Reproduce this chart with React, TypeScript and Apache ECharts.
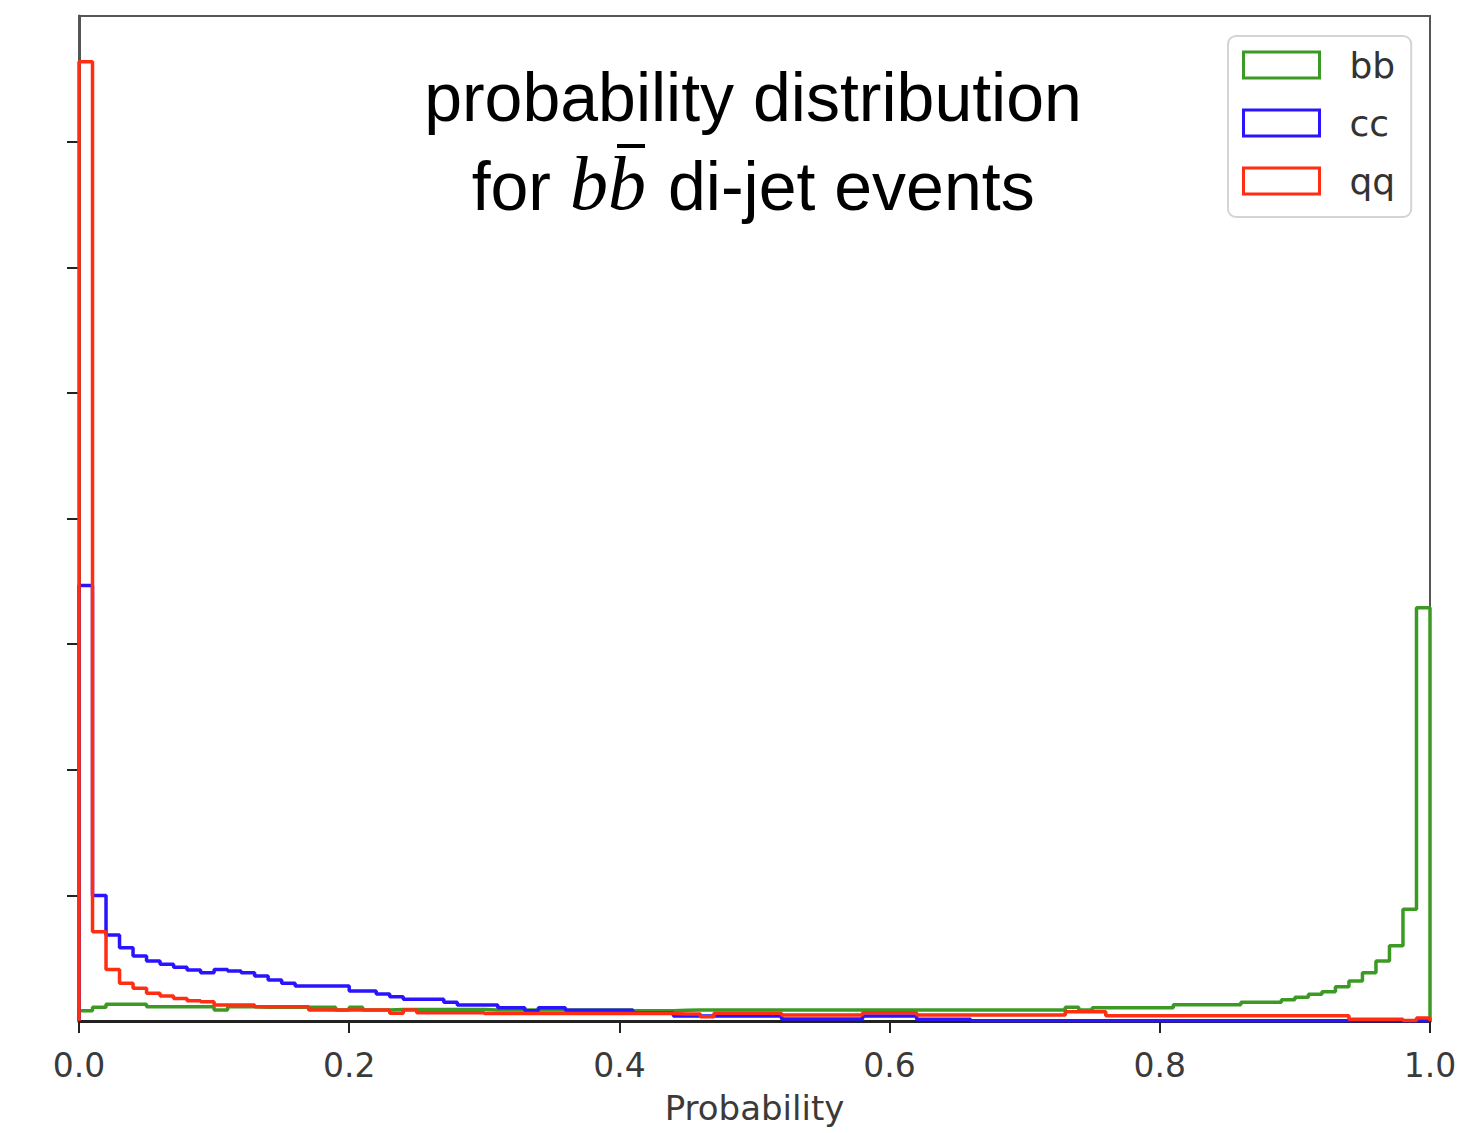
import React, { useEffect, useRef } from "react";
import * as echarts from "echarts";

// Histogram: 100 bins of width 0.01 on [0, 1]
const binCount = 100;
const binWidth = 0.01;

const seriesNames = ["bb", "cc", "qq"];
const seriesColors = ["#3c9a24", "#2a14ff", "#ff2d12"];

const yTickValues = [1, 2, 3, 4, 5, 6, 7];

const bbValues = [
  0.082, 0.109, 0.133, 0.133, 0.133, 0.114, 0.114, 0.114, 0.114, 0.114,
  0.088, 0.114, 0.114, 0.109, 0.109, 0.109, 0.109, 0.109, 0.109, 0.088,
  0.109, 0.088, 0.088, 0.092, 0.092, 0.092, 0.092, 0.092, 0.092, 0.092,
  0.088, 0.088, 0.088, 0.088, 0.088, 0.088, 0.088, 0.088, 0.088, 0.088,
  0.088, 0.082, 0.082, 0.082, 0.085, 0.088, 0.088, 0.088, 0.088, 0.088,
  0.088, 0.088, 0.088, 0.088, 0.088, 0.088, 0.088, 0.088, 0.088, 0.088,
  0.088, 0.088, 0.088, 0.088, 0.088, 0.088, 0.088, 0.088, 0.088, 0.088,
  0.088, 0.088, 0.088, 0.109, 0.088, 0.106, 0.106, 0.106, 0.106, 0.106,
  0.106, 0.13, 0.13, 0.13, 0.13, 0.13, 0.15, 0.15, 0.15, 0.17,
  0.19, 0.212, 0.233, 0.273, 0.318, 0.385, 0.478, 0.6, 0.889, 3.29,
];

const ccValues = [
  3.466, 1.0, 0.685, 0.584, 0.517, 0.478, 0.451, 0.427, 0.406, 0.385,
  0.41, 0.398, 0.385, 0.358, 0.326, 0.3, 0.279, 0.279, 0.279, 0.279,
  0.239, 0.239, 0.215, 0.194, 0.173, 0.173, 0.173, 0.149, 0.127, 0.127,
  0.127, 0.106, 0.106, 0.082, 0.106, 0.106, 0.085, 0.085, 0.085, 0.085,
  0.085, 0.063, 0.063, 0.063, 0.04, 0.04, 0.04, 0.04, 0.04, 0.04,
  0.04, 0.04, 0.015, 0.015, 0.015, 0.015, 0.015, 0.015, 0.04, 0.04,
  0.04, 0.04, 0.014, 0.014, 0.014, 0.014, 0.002, 0.002, 0.002, 0.002,
  0.002, 0.002, 0.002, 0.002, 0.002, 0.002, 0.002, 0.002, 0.002, 0.002,
  0.002, 0.002, 0.002, 0.002, 0.002, 0.002, 0.002, 0.002, 0.002, 0.002,
  0.002, 0.002, 0.002, 0.002, 0.002, 0.002, 0.002, 0.002, 0.002, 0.002,
];

const qqValues = [
  7.635, 0.711, 0.41, 0.3, 0.26, 0.22, 0.199, 0.18, 0.162, 0.154,
  0.127, 0.127, 0.127, 0.114, 0.114, 0.114, 0.114, 0.088, 0.088, 0.088,
  0.088, 0.088, 0.088, 0.061, 0.088, 0.066, 0.066, 0.066, 0.066, 0.066,
  0.06, 0.06, 0.06, 0.06, 0.06, 0.06, 0.06, 0.06, 0.06, 0.06,
  0.06, 0.06, 0.06, 0.06, 0.056, 0.056, 0.034, 0.061, 0.061, 0.061,
  0.061, 0.061, 0.048, 0.048, 0.048, 0.048, 0.048, 0.048, 0.066, 0.066,
  0.066, 0.066, 0.048, 0.048, 0.048, 0.048, 0.048, 0.048, 0.048, 0.048,
  0.048, 0.048, 0.048, 0.074, 0.074, 0.074, 0.042, 0.042, 0.042, 0.042,
  0.042, 0.042, 0.042, 0.042, 0.042, 0.042, 0.042, 0.042, 0.042, 0.042,
  0.042, 0.042, 0.042, 0.042, 0.014, 0.014, 0.014, 0.014, 0.003, 0.024,
];

const allValues = [bbValues, ccValues, qqValues];

function stepData(values: number[]): number[][] {
  const pts: number[][] = [[0, 0]];
  for (let i = 0; i < binCount; i++) {
    pts.push([+(i * binWidth).toFixed(2), values[i]]);
  }
  pts.push([1, values[binCount - 1]]);
  pts.push([1, 0]);
  return pts;
}

export default function App() {
  const ref = useRef<HTMLDivElement>(null);

  useEffect(() => {
    if (!ref.current) return;
    const chart = echarts.init(ref.current, undefined, { renderer: "svg" });

    const sansTitle = "'Liberation Sans', Arial, Helvetica, sans-serif";
    const serifMath = "'Liberation Serif', 'DejaVu Serif', serif";

    chart.setOption({
      animation: false,
      backgroundColor: "#ffffff",
      grid: {
        left: 79,
        right: 51,
        top: 16,
        bottom: 112,
        containLabel: false,
        outerBoundsMode: "none",
        show: true,
        borderColor: "#555555",
        borderWidth: 2,
        backgroundColor: "transparent",
      },
      xAxis: {
        type: "value",
        min: 0,
        max: 1,
        interval: 0.2,
        name: "Probability",
        nameLocation: "middle",
        nameGap: 70,
        nameTextStyle: {
          fontFamily: "'DejaVu Sans', sans-serif",
          fontSize: 34,
          color: "#3a3a3a",
        },
        axisLine: { show: true, lineStyle: { color: "#222222", width: 3 } },
        axisTick: { show: true, length: 12, lineStyle: { color: "#222222", width: 2 } },
        axisLabel: {
          margin: 28,
          fontFamily: "'DejaVu Sans', sans-serif",
          fontSize: 33,
          color: "#3a3a3a",
          formatter: (v: number) => v.toFixed(1),
        },
        splitLine: { show: false },
      },
      yAxis: {
        type: "value",
        min: 0,
        max: 8,
        interval: 1,
        axisLine: { show: true, lineStyle: { color: "#555555", width: 3 } },
        axisTick: {
          show: true,
          length: 12,
          lineStyle: { color: "#222222", width: 2 },
          customValues: yTickValues,
        },
        axisLabel: { show: false },
        splitLine: { show: false },
      },
      legend: {
        orient: "vertical",
        left: 1228,
        top: 36,
        backgroundColor: "#ffffff",
        borderColor: "#d4d4d4",
        borderWidth: 2,
        borderRadius: 8,
        padding: [11, 16, 18, 14],
        itemWidth: 76,
        itemHeight: 26,
        itemGap: 22,
        selectedMode: false,
        textStyle: {
          fontFamily: "'DejaVu Sans', sans-serif",
          fontSize: 36,
          color: "#333333",
          padding: [0, 0, 0, 25],
        },
        data: seriesNames.map((n, i) => ({
          name: n,
          icon: "rect",
          itemStyle: { color: "#ffffff", borderColor: seriesColors[i], borderWidth: 3 },
        })),
      },
      graphic: [
        {
          type: "text",
          style: {
            x: 753,
            y: 97,
            text: "probability distribution",
            fontFamily: sansTitle,
            fontSize: 68,
            fill: "#000000",
            align: "center",
            verticalAlign: "middle",
          },
        },
        {
          type: "text",
          style: {
            x: 551,
            y: 186,
            text: "for",
            fontFamily: sansTitle,
            fontSize: 68,
            fill: "#000000",
            align: "right",
            verticalAlign: "middle",
          },
        },
        {
          type: "text",
          style: {
            x: 570,
            y: 183,
            text: "b",
            fontFamily: serifMath,
            fontStyle: "italic",
            fontSize: 76,
            fill: "#000000",
            align: "left",
            verticalAlign: "middle",
          },
        },
        {
          type: "text",
          style: {
            x: 608,
            y: 183,
            text: "b",
            fontFamily: serifMath,
            fontStyle: "italic",
            fontSize: 76,
            fill: "#000000",
            align: "left",
            verticalAlign: "middle",
          },
        },
        {
          type: "line",
          shape: { x1: 617, y1: 146, x2: 645, y2: 146 },
          style: { stroke: "#000000", lineWidth: 4 },
        },
        {
          type: "text",
          style: {
            x: 668,
            y: 186,
            text: "di-jet events",
            fontFamily: sansTitle,
            fontSize: 68,
            fill: "#000000",
            align: "left",
            verticalAlign: "middle",
          },
        },
      ],
      series: seriesNames.map((n, i) => ({
        name: n,
        type: "line",
        step: "end",
        showSymbol: false,
        symbol: "none",
        data: stepData(allValues[i]),
        color: seriesColors[i],
        lineStyle: { color: seriesColors[i], width: 3.5 },
        itemStyle: { color: seriesColors[i] },
        z: 2 + i,
      })),
    });

    return () => {
      chart.dispose();
    };
  }, []);

  return (
    <div
      ref={ref}
      style={{ position: "absolute", left: 0, top: 0, width: 1481, height: 1133, background: "#ffffff" }}
    />
  );
}
